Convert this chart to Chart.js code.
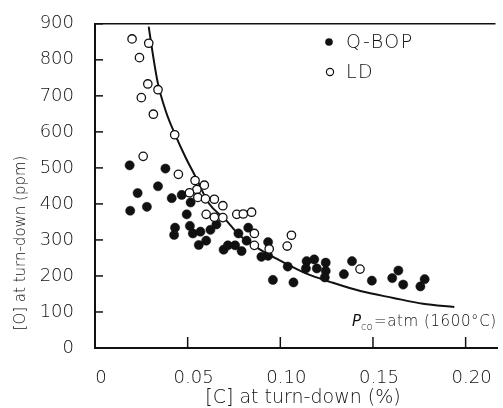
<!DOCTYPE html>
<html><head><meta charset="utf-8">
<script src="https://cdn.jsdelivr.net/npm/chart.js@4/dist/chart.umd.min.js"></script>
<style>html,body{margin:0;padding:0;background:#fff;}#wrap{width:503px;height:408px;}</style>
</head><body><div id="wrap"><canvas id="c" width="503" height="408"></canvas></div>
<script>
const xTickValues = [0, 0.05, 0.10, 0.15, 0.20];
const xTickLabels = ['0', '0.05', '0.10', '0.15', '0.20'];
const yTickValues = [0, 100, 200, 300, 400, 500, 600, 700, 800, 900];

const qbopC = [0.0187,0.038,0.034,0.023,0.0414,0.0468,0.0516,0.019,0.028,0.0495,0.0432,0.0427,0.0512,0.0528,0.0569,0.0623,0.0655,0.056,0.060,0.0694,0.0717,0.0756,0.0791,0.0774,0.0818,0.0827,0.0934,0.0898,0.0934,0.096,0.104,0.1071,0.1142,0.1138,0.1183,0.1197,0.1245,0.1245,0.124,0.1343,0.1387,0.1494,0.1637,0.1604,0.1663,0.1779,0.1756];
const qbopO = [507,498,449,430,416,425,404,381,392,371,334,314,339,318,323,328,343,286,298,273,285,285,269,318,298,334,294,253,256,189,226,182,241,221,246,221,237,214,196,205,241,187,215,194,176,191,171];

const ldC = [0.020,0.029,0.024,0.0285,0.034,0.025,0.0315,0.043,0.026,0.045,0.054,0.059,0.055,0.051,0.0555,0.0596,0.0644,0.069,0.060,0.0644,0.069,0.0765,0.080,0.0845,0.086,0.086,0.094,0.1037,0.106,0.143];
const ldO = [858,846,806,733,717,695,649,592,532,482,465,452,440,431,418,414,413,395,371,363,362,371,372,377,318,285,275,283,313,219];

const curveC = [0.0290,0.0303,0.0338,0.0383,0.0432,0.0489,0.0543,0.0614,0.0703,0.0774,0.0898,0.1005,0.1138,0.1272,0.1432,0.1610,0.1770,0.1939];
const curveO = [892,846,738,656,593,529,475,402,357,316,271,241,207,183,158,139,123,114];

const pts = (xs, ys) => xs.map((x, i) => ({x: x, y: ys[i]}));
const FONT = "'DejaVu Sans', sans-serif";

const decor = {
  id: 'decor',
  afterDraw(chart) {
    const ctx = chart.ctx, a = chart.chartArea;
    const xs = chart.scales.x, ys = chart.scales.y;
    ctx.save();
    ctx.strokeStyle = '#111';
    // top border
    ctx.lineWidth = 1.5;
    ctx.beginPath(); ctx.moveTo(a.left, a.top); ctx.lineTo(a.right - 2, a.top); ctx.stroke();
    // inward ticks
    ctx.lineWidth = 1.5;
    xTickValues.forEach(v => {
      if (v === 0) return;
      const px = xs.getPixelForValue(v);
      ctx.beginPath(); ctx.moveTo(px, a.bottom); ctx.lineTo(px, a.bottom - 11); ctx.stroke();
    });
    yTickValues.forEach(v => {
      if (v === 0) return;
      const py = ys.getPixelForValue(v);
      ctx.beginPath(); ctx.moveTo(a.left, py); ctx.lineTo(a.left + 8, py); ctx.stroke();
    });
    // legend
    ctx.fillStyle = '#111';
    ctx.beginPath(); ctx.arc(329, 42, 3.8, 0, Math.PI * 2); ctx.fill();
    ctx.lineWidth = 1.2;
    ctx.beginPath(); ctx.arc(330, 72, 3.6, 0, Math.PI * 2); ctx.stroke();
    ctx.font = '300 19px ' + FONT;
    ctx.textBaseline = 'middle'; ctx.textAlign = 'left';
    ctx.letterSpacing = '1.5px';
    ctx.fillText('Q-BOP', 346, 43);
    ctx.fillText('LD', 346, 73);
    ctx.letterSpacing = '0px';
    // annotation
    ctx.font = 'italic 300 15px ' + FONT;
    ctx.fillText('P', 352, 322);
    ctx.font = '300 10px ' + FONT;
    ctx.fillText('co', 361, 327);
    ctx.font = '300 15px ' + FONT;
    ctx.textAlign = 'left';
    ctx.letterSpacing = '0.6px';
    ctx.fillText('=atm (1600°C)', 374, 322);
    ctx.letterSpacing = '0px';
    // axis titles
    ctx.textAlign = 'center';
    ctx.font = '300 19px ' + FONT;
    ctx.fillText('[C] at turn-down (%)', 303, 398);
    ctx.translate(21, 243);
    ctx.rotate(-Math.PI / 2);
    ctx.font = '300 15px ' + FONT;
    ctx.fillText('[O] at turn-down (ppm)', 0, 0);
    ctx.restore();
  }
};

new Chart(document.getElementById('c'), {
  type: 'scatter',
  data: {
    datasets: [
      { label: 'curve', data: pts(curveC, curveO), showLine: true, pointRadius: 0, borderColor: '#111', borderWidth: 2, tension: 0.4, cubicInterpolationMode: 'monotone', order: 3 },
      { label: 'Q-BOP', data: pts(qbopC, qbopO), pointRadius: 4.6, backgroundColor: '#111', borderColor: '#111', borderWidth: 0.5, order: 2 },
      { label: 'LD', data: pts(ldC, ldO), pointRadius: 4.2, backgroundColor: '#fff', borderColor: '#111', borderWidth: 1.3, order: 1 }
    ]
  },
  options: {
    responsive: false,
    animation: false,
    layout: { padding: { top: 17, right: 1, left: 0, bottom: 0 } },
    plugins: { legend: { display: false }, tooltip: { enabled: false } },
    scales: {
      x: {
        type: 'linear', min: 0, max: 0.2172,
        afterFit: s => { s.height = 60; },
        afterBuildTicks: s => { s.ticks = xTickValues.map(v => ({value: v})); },
        grid: { display: false },
        border: { display: true, color: '#111', width: 2 },
        ticks: { padding: 12, color: '#111', font: { family: FONT, size: 18, weight: 300 }, labelOffset: 6,
          callback: (v) => { const i = xTickValues.indexOf(v); return i >= 0 ? xTickLabels[i] : ''; } }
      },
      y: {
        type: 'linear', min: 0, max: 900,
        afterFit: s => { s.width = 95; },
        afterBuildTicks: s => { s.ticks = yTickValues.map(v => ({value: v})); },
        grid: { display: false },
        border: { display: true, color: '#111', width: 2 },
        ticks: { padding: 13, color: '#111', font: { family: FONT, size: 18, weight: 300 } }
      }
    }
  },
  plugins: [decor]
});
</script></body></html>
